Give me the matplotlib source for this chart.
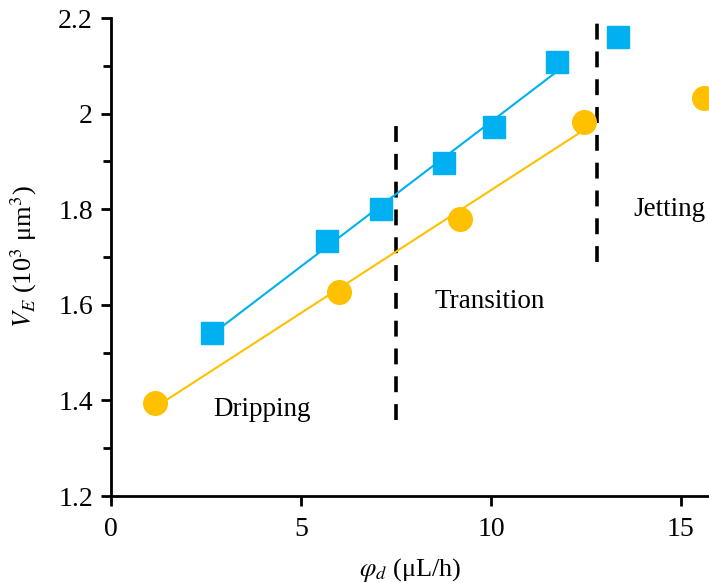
import numpy as np
import matplotlib.pyplot as plt

plt.rcParams['font.family'] = ['Liberation Serif', 'DejaVu Serif']
plt.rcParams['mathtext.fontset'] = 'stix'

# droplet volume vs dispersed flow rate
sq_x = [2.66, 5.68, 7.1, 8.76, 10.08, 11.74, 13.34]
sq_y = [1.541, 1.733, 1.80, 1.897, 1.972, 2.108, 2.16]
ci_x = [1.16, 6.0, 9.18, 12.45, 15.6]
ci_y = [1.395, 1.627, 1.779, 1.982, 2.033]

y_major = [1.2, 1.4, 1.6, 1.8, 2.0, 2.2]
y_major_lbl = ["1.2", "1.4", "1.6", "1.8", "2", "2.2"]
y_minor = [1.3, 1.5, 1.7, 1.9, 2.1]
x_major = [0, 5, 10, 15]

blue = "#00B0F0"
orange = "#FFC000"

fig = plt.figure(figsize=(7.09, 5.83), dpi=100)
ax = fig.add_axes([0.1566, 0.1492, 0.8434, 0.8199])

# linear fits over the dripping/transition points
bx = np.array(sq_x[:6]); by = np.array(sq_y[:6])
k, b = np.polyfit(bx, by, 1)
ax.plot([bx[0], bx[-1]], [k * bx[0] + b, k * bx[-1] + b], color=blue, lw=1.5, zorder=2)
ox = np.array(ci_x[:4]); oy = np.array(ci_y[:4])
k, b = np.polyfit(ox, oy, 1)
ax.plot([ox[0], ox[-1]], [k * ox[0] + b, k * ox[-1] + b], color=orange, lw=1.5, zorder=2)

ax.plot(sq_x, sq_y, ls="none", marker="s", ms=15.5, color=blue, zorder=3, clip_on=False)
ax.plot(ci_x, ci_y, ls="none", marker="o", ms=17, color=orange, zorder=3, clip_on=False)

# regime boundaries
dash = (0, (4.4, 3.3))
ax.plot([7.5, 7.5], [1.36, 1.975], color="black", lw=2.6, ls=dash, zorder=1)
ax.plot([12.8, 12.8], [1.69, 2.195], color="black", lw=2.6, ls=dash, zorder=1)

ax.text(3.97, 1.38, "Dripping", fontsize=19.5, ha="center", va="center")
ax.text(9.97, 1.606, "Transition", fontsize=19.5, ha="center", va="center")
ax.text(14.7, 1.80, "Jetting", fontsize=19.5, ha="center", va="center")

ax.set_xlim(0, 15.74)
ax.set_ylim(1.2, 2.2)
ax.set_xticks(x_major)
ax.set_yticks(y_major)
ax.set_yticklabels(y_major_lbl)
ax.set_yticks(y_minor, minor=True)
ax.tick_params(axis="both", which="major", labelsize=20, width=2, length=7, direction="out")
ax.tick_params(axis="y", which="minor", width=2, length=6)
ax.tick_params(axis="y", pad=6)
ax.tick_params(axis="x", pad=8)

for s in ["top", "right"]:
    ax.spines[s].set_visible(False)
for s in ["left", "bottom"]:
    ax.spines[s].set_linewidth(2)

ax.set_xlabel(r"$\varphi_d$ (μL/h)", fontsize=19, labelpad=10)
ax.set_ylabel(r"$V_E$ (10$^3$ μm$^3$)", fontsize=19, labelpad=14)

fig.savefig("out.png", dpi=100)
